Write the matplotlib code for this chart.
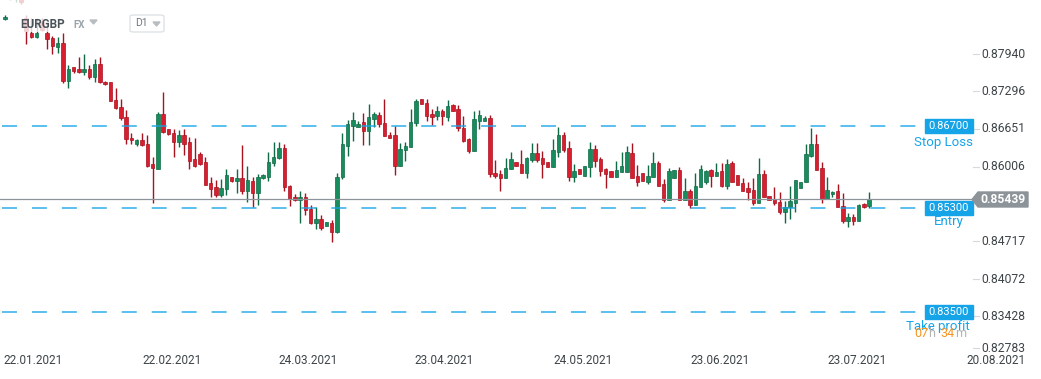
import numpy as np
import matplotlib.pyplot as plt
from matplotlib.patches import Rectangle, Polygon, FancyBboxPatch
from matplotlib.transforms import blended_transform_factory

plt.rcParams['font.family'] = ['Roboto', 'DejaVu Sans']

# EURGBP D1 candles (bar 0 = leftmost bar)
opens = [
    0.88542, 0.8893, 0.8889, 0.8892, 0.88559, 0.88301, 0.88232, 0.88490, 0.88301, 0.88215,
    0.88060, 0.88129, 0.87476, 0.87717, 0.87682, 0.87631, 0.87682, 0.87544, 0.87768, 0.87458,
    0.87458, 0.87149, 0.87029, 0.86857, 0.86496, 0.86393, 0.86462, 0.86393, 0.86049, 0.85963,
    0.86908, 0.86651, 0.86582, 0.86427, 0.86548, 0.86427, 0.86135, 0.86221, 0.86083, 0.85723,
    0.85654, 0.85516, 0.85619, 0.85826, 0.85757, 0.85808, 0.85585, 0.85757, 0.85551, 0.85808,
    0.85826, 0.86066, 0.86152, 0.86324, 0.85671, 0.85482, 0.85430, 0.85482, 0.85276, 0.85035,
    0.85104, 0.84983, 0.85035, 0.84880, 0.85826, 0.86358, 0.86702, 0.86685, 0.86771, 0.86616,
    0.86823, 0.86891, 0.86754, 0.86548, 0.86548, 0.86015, 0.86290, 0.86341, 0.86754, 0.87166,
    0.87098, 0.86908, 0.86874, 0.86960, 0.86857, 0.87063, 0.86995, 0.86668, 0.86479, 0.86272,
    0.86788, 0.86788, 0.86840, 0.85894, 0.85877, 0.85808, 0.85963, 0.86083, 0.86049, 0.85894,
    0.86118, 0.86238, 0.86152, 0.86083, 0.85998, 0.86255, 0.86548, 0.86324, 0.85826, 0.85963,
    0.85843, 0.85998, 0.86307, 0.86135, 0.85963, 0.85929, 0.85826, 0.85912, 0.85912, 0.86238,
    0.85843, 0.85894, 0.85740, 0.85826, 0.86066, 0.85705, 0.85430, 0.85808, 0.85946, 0.85430,
    0.85585, 0.85344, 0.85654, 0.85740, 0.85946, 0.85843, 0.85929, 0.85671, 0.86066, 0.85860,
    0.85723, 0.85637, 0.85602, 0.85379, 0.85877, 0.85499, 0.85447, 0.85396, 0.85224, 0.85310,
    0.85379, 0.85637, 0.85740, 0.86187, 0.86393, 0.85980, 0.85447, 0.85533, 0.85585, 0.85327,
    0.85069, 0.85138, 0.85069, 0.85362, 0.85327,
]
highs = [
    0.88610, 0.8898, 0.8896, 0.8895, 0.88610, 0.88559, 0.88559, 0.88559, 0.88439, 0.88249,
    0.88232, 0.88301, 0.87751, 0.87717, 0.87888, 0.87940, 0.87751, 0.87854, 0.87888, 0.87476,
    0.87458, 0.87355, 0.87166, 0.86977, 0.86582, 0.86479, 0.86582, 0.86548, 0.86169, 0.86943,
    0.87287, 0.86651, 0.86651, 0.86634, 0.86651, 0.86513, 0.86496, 0.86255, 0.86169, 0.85826,
    0.85774, 0.85791, 0.85963, 0.85826, 0.85963, 0.86376, 0.86015, 0.85826, 0.85877, 0.85877,
    0.86255, 0.86427, 0.86427, 0.86393, 0.85688, 0.85533, 0.85585, 0.85551, 0.85344, 0.85310,
    0.85172, 0.85052, 0.85087, 0.85894, 0.86582, 0.86805, 0.86943, 0.86788, 0.86926, 0.87080,
    0.86943, 0.86943, 0.87166, 0.86599, 0.86702, 0.86410, 0.86427, 0.86995, 0.87166, 0.87166,
    0.87166, 0.86995, 0.87046, 0.86995, 0.87149, 0.87080, 0.87063, 0.86874, 0.86496, 0.86960,
    0.86977, 0.86874, 0.86891, 0.86118, 0.85946, 0.86152, 0.86255, 0.86083, 0.86290, 0.86169,
    0.86410, 0.86410, 0.86272, 0.86083, 0.86479, 0.86685, 0.86599, 0.86444, 0.86049, 0.85963,
    0.86015, 0.86427, 0.86376, 0.86169, 0.85980, 0.85929, 0.86101, 0.86255, 0.86358, 0.86410,
    0.86032, 0.85894, 0.86032, 0.86255, 0.86101, 0.85791, 0.85980, 0.85946, 0.85998, 0.85808,
    0.85619, 0.85894, 0.86032, 0.85946, 0.85963, 0.86066, 0.86066, 0.86135, 0.86101, 0.85860,
    0.85808, 0.85740, 0.85808, 0.86152, 0.85946, 0.85499, 0.85654, 0.85568, 0.85413, 0.85671,
    0.85774, 0.85740, 0.86393, 0.86668, 0.86565, 0.86083, 0.85826, 0.85585, 0.85705, 0.85551,
    0.85207, 0.85190, 0.85362, 0.85379, 0.85568,
]
lows = [
    0.88525, 0.8886, 0.8884, 0.8880, 0.88112, 0.88215, 0.88215, 0.88335, 0.88026, 0.87940,
    0.87957, 0.87441, 0.87355, 0.87613, 0.87613, 0.87579, 0.87510, 0.87458, 0.87441, 0.87407,
    0.87132, 0.86995, 0.86805, 0.86393, 0.86393, 0.86358, 0.86358, 0.85998, 0.85379, 0.85963,
    0.86582, 0.86548, 0.86169, 0.86341, 0.86204, 0.85963, 0.85998, 0.86032, 0.85688, 0.85482,
    0.85482, 0.85482, 0.85516, 0.85740, 0.85551, 0.85533, 0.85396, 0.85310, 0.85344, 0.85791,
    0.85757, 0.86015, 0.86135, 0.85585, 0.85327, 0.85413, 0.85035, 0.85172, 0.85018, 0.84932,
    0.84915, 0.84983, 0.84708, 0.84863, 0.85791, 0.86187, 0.86444, 0.86685, 0.86376, 0.86376,
    0.86685, 0.86685, 0.86530, 0.86496, 0.85860, 0.86015, 0.86101, 0.86341, 0.86702, 0.87080,
    0.86788, 0.86719, 0.86805, 0.86719, 0.86788, 0.86960, 0.86616, 0.86427, 0.86238, 0.86272,
    0.86651, 0.86788, 0.85826, 0.85808, 0.85585, 0.85808, 0.85963, 0.86015, 0.85894, 0.85808,
    0.86083, 0.86083, 0.85808, 0.85998, 0.85998, 0.86169, 0.86255, 0.85757, 0.85740, 0.85877,
    0.85843, 0.85826, 0.85998, 0.85843, 0.85637, 0.85826, 0.85826, 0.85912, 0.85912, 0.85808,
    0.85671, 0.85757, 0.85705, 0.85826, 0.85671, 0.85396, 0.85430, 0.85808, 0.85430, 0.85430,
    0.85293, 0.85344, 0.85654, 0.85705, 0.85654, 0.85843, 0.85654, 0.85619, 0.85740, 0.85688,
    0.85585, 0.85430, 0.85344, 0.85379, 0.85482, 0.85430, 0.85344, 0.85190, 0.85035, 0.85104,
    0.85224, 0.85637, 0.85740, 0.86169, 0.85946, 0.85379, 0.85447, 0.85482, 0.85310, 0.85035,
    0.84966, 0.85001, 0.85069, 0.85293, 0.85293,
]
closes = [
    0.88576, 0.8889, 0.8892, 0.8884, 0.88335, 0.88232, 0.88301, 0.88353, 0.88198, 0.88078,
    0.88129, 0.87476, 0.87682, 0.87648, 0.87631, 0.87682, 0.87544, 0.87768, 0.87458, 0.87424,
    0.87132, 0.87012, 0.86840, 0.86479, 0.86462, 0.86462, 0.86376, 0.86015, 0.85980, 0.86908,
    0.86599, 0.86565, 0.86427, 0.86548, 0.86393, 0.86101, 0.86015, 0.86049, 0.85688, 0.85619,
    0.85516, 0.85637, 0.85860, 0.85757, 0.85808, 0.85585, 0.85774, 0.85551, 0.85826, 0.85860,
    0.86083, 0.86169, 0.86324, 0.85654, 0.85447, 0.85430, 0.85482, 0.85258, 0.85035, 0.85104,
    0.84949, 0.85052, 0.84880, 0.85826, 0.86393, 0.86737, 0.86805, 0.86737, 0.86616, 0.86857,
    0.86908, 0.86737, 0.86530, 0.86496, 0.86015, 0.86307, 0.86358, 0.86771, 0.87132, 0.87080,
    0.86874, 0.86857, 0.86960, 0.86874, 0.87046, 0.86960, 0.86668, 0.86444, 0.86272, 0.86823,
    0.86891, 0.86840, 0.85877, 0.85843, 0.85808, 0.85980, 0.86135, 0.86015, 0.85894, 0.86152,
    0.86238, 0.86118, 0.86049, 0.85998, 0.86290, 0.86548, 0.86290, 0.85826, 0.85929, 0.85877,
    0.86015, 0.86307, 0.86101, 0.85929, 0.85877, 0.85826, 0.85946, 0.86015, 0.86255, 0.85808,
    0.85740, 0.85757, 0.85843, 0.86066, 0.85671, 0.85430, 0.85929, 0.85946, 0.85430, 0.85585,
    0.85344, 0.85671, 0.85963, 0.85929, 0.85843, 0.85912, 0.85671, 0.86049, 0.85740, 0.85688,
    0.85585, 0.85568, 0.85379, 0.85877, 0.85482, 0.85430, 0.85379, 0.85224, 0.85310, 0.85413,
    0.85774, 0.85740, 0.86221, 0.86393, 0.85946, 0.85447, 0.85602, 0.85568, 0.85310, 0.85069,
    0.85138, 0.85069, 0.85344, 0.85310, 0.85439,
]

date_labels = ['22.01.2021', '22.02.2021', '24.03.2021', '23.04.2021',
               '24.05.2021', '23.06.2021', '23.07.2021', '20.08.2021']
date_bars = [4, 31.7, 57.5, 83.3, 109.7, 135.7, 161.7, 188]

price_ticks = [0.87940, 0.87296, 0.86651, 0.86006, 0.84717, 0.84072, 0.83428, 0.82783]
price_labels = ['0.87940', '0.87296', '0.86651', '0.86006', '0.84717', '0.84072', '0.83428', '0.82783']

stop_loss = 0.86700
entry = 0.85300
take_profit = 0.83500
last_price = 0.85439

GREEN, GREEN_EDGE = '#188c5c', '#0f6a45'
RED, RED_EDGE = '#d81f30', '#a8121f'
BLUE = '#16a4e8'
GRAY = '#8c9499'
TXT = '#3d4448'

W, H = 1041, 379
fig = plt.figure(figsize=(W / 100, H / 100), dpi=100)
ax = fig.add_axes([0, 0, 973 / W, 1])
ax.set_xlim(-0.95, 183.7)
ax.set_ylim(0.823533, 0.888683)
ax.set_axis_off()
per_px = (0.888683 - 0.823533) / H
fy = blended_transform_factory(fig.transFigure, ax.transData)

# candles
o, h, l, c = map(np.array, (opens, highs, lows, closes))
idx = np.arange(len(o))
up = c >= o
ax.vlines(idx, l, h, colors=np.where(up, GREEN_EDGE, RED_EDGE), lw=1.0, zorder=2)
body = np.maximum(np.abs(c - o), 1.3 * per_px)
ax.bar(idx, body, bottom=np.minimum(o, c), width=0.66,
       color=np.where(up, GREEN, RED), edgecolor=np.where(up, GREEN_EDGE, RED_EDGE),
       lw=0.5, zorder=3)

# order levels
for lvl in (stop_loss, entry, take_profit):
    ax.axhline(lvl, xmin=2 / 973, xmax=917 / 973, color=BLUE, lw=1.1,
               dashes=(9.8, 9.8), alpha=0.9, zorder=4)
ax.axhline(last_price, xmin=0, xmax=1, color=GRAY, lw=0.9, zorder=4)

for lvl in (stop_loss, entry, take_profit):
    ax.add_patch(Rectangle((925 / W, lvl - 7 * per_px), 48 / W, 14 * per_px,
                           transform=fy, color=BLUE, zorder=6, clip_on=False))
    ax.text(949 / W, lvl, f'{lvl:.5f}', transform=fy, color='white', fontsize=8,
            ha='center', va='center', zorder=7)

ax.text(944 / W, stop_loss - 16 * per_px, 'Stop Loss', transform=fy, color=BLUE,
        fontsize=9.5, ha='center', va='center', zorder=7)
ax.text(948.5 / W, entry - 14 * per_px, 'Entry', transform=fy, color=BLUE,
        fontsize=9.5, ha='center', va='center', zorder=7)
ax.text(938 / W, take_profit - 14 * per_px, 'Take profit', transform=fy, color=BLUE,
        fontsize=9.5, ha='center', va='center', zorder=7)
y_timer = take_profit - 21.5 * per_px
for txt, x0, colr in (('07', 914, '#f7931e'), ('h', 928, '#b3b3b3'),
                      ('34', 940, '#f7931e'), ('m', 955, '#b3b3b3')):
    ax.text(x0 / W, y_timer, txt, transform=fy, color=colr, fontsize=9,
            ha='left', va='center', zorder=8)

# price axis on the right
ytr = ax.get_yaxis_transform()
for i, (p, lab) in enumerate(zip(price_ticks, price_labels)):
    dy = 6 if i == len(price_ticks) - 1 else 0
    ax.plot([1, 1 + 6 / 973], [p + dy * per_px] * 2, transform=ytr, color='#d5d9dc',
            lw=0.8, clip_on=False)
    ax.text(1 + 8 / 973, p + dy * per_px, lab, transform=ytr, color=TXT, fontsize=8.7,
            ha='left', va='center')

# last price tag
yc = last_price
hh = 7.5 * per_px
tag = Polygon([(972 / W, yc), (978 / W, yc + hh), (1028 / W, yc + hh),
               (1028 / W, yc - hh), (978 / W, yc - hh)], closed=True,
              transform=fy, color=GRAY, zorder=6, clip_on=False)
ax.add_patch(tag)
ax.text(1003 / W, yc, f'{last_price:.5f}', transform=fy, color='white', fontsize=8.7,
        fontweight='bold', ha='center', va='center', zorder=7)

# date labels (the first one is held inside the left edge)
xtr = ax.get_xaxis_transform()
for i, (xb, lab) in enumerate(zip(date_bars, date_labels)):
    if i == 0:
        ax.text(3 / 973, 1 - 361 / H, lab, transform=ax.transAxes, color=TXT,
                fontsize=8.5, ha='left', va='center', clip_on=False)
    else:
        ax.text(xb, 1 - 361 / H, lab, transform=xtr, color=TXT, fontsize=8.5,
                ha='center', va='center', clip_on=False)

# header
ax.add_patch(Rectangle((8 / W, 1 - 32 / H), 162 / W, 32 / H, transform=fig.transFigure,
                       color='white', alpha=0.78, zorder=9, lw=0))
fig.text(20 / W, 1 - 24 / H, 'EURGBP', color='#4a5359', fontsize=8.5,
         fontweight='bold', ha='left', va='center', zorder=10)
fig.text(73 / W, 1 - 24.5 / H, 'FX', color='#9aa3a8', fontsize=7,
         fontweight='bold', ha='left', va='center', zorder=10)
fig.patches.append(Polygon([(90 / W, 1 - 20 / H), (97 / W, 1 - 20 / H), (93.5 / W, 1 - 24 / H)],
                           closed=True, transform=fig.transFigure, color='#b7bdc1'))
fig.patches.append(FancyBboxPatch((130 / W, 1 - 32 / H), 34 / W, 17 / H,
                                  boxstyle='round,pad=0,rounding_size=0.004',
                                  transform=fig.transFigure, facecolor='white',
                                  edgecolor='#dfe3e6', lw=1))
fig.text(135 / W, 1 - 23.5 / H, 'D1', color='#6e777c', fontsize=7.5,
         ha='left', va='center', zorder=10)
fig.patches.append(Polygon([(153 / W, 1 - 22 / H), (160 / W, 1 - 22 / H), (156.5 / W, 1 - 26 / H)],
                           closed=True, transform=fig.transFigure, color='#b7bdc1'))

fig.savefig('out.png', dpi=100, facecolor='white')
